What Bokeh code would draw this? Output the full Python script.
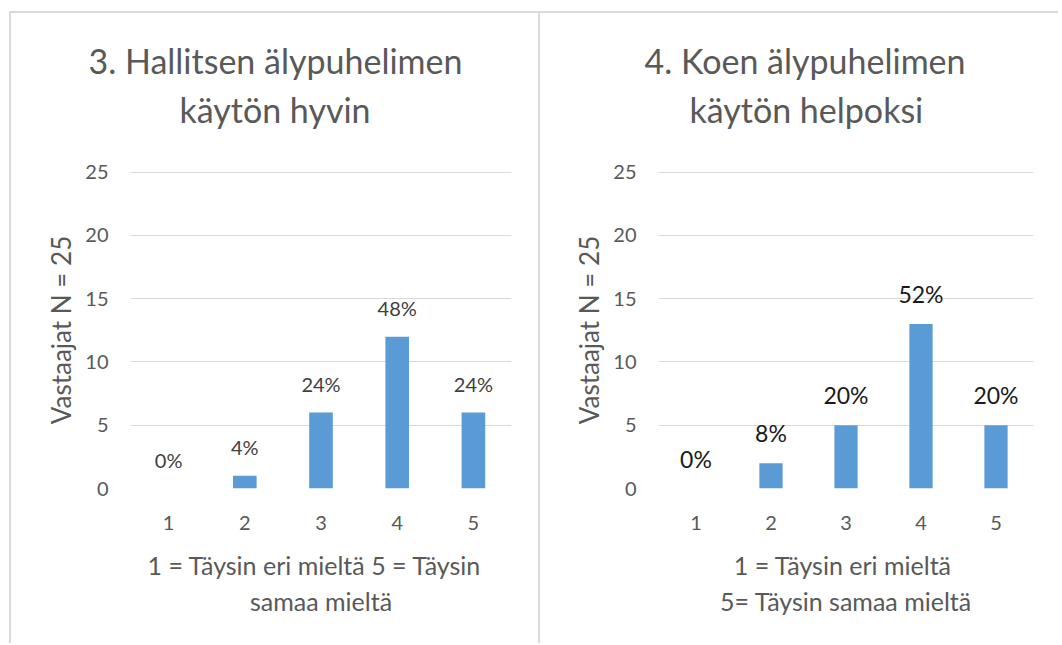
from bokeh.plotting import figure
from bokeh.models import Range1d, FixedTicker, LabelSet, ColumnDataSource, Title
from bokeh.core.properties import value
from bokeh.layouts import row
from bokeh.embed import file_html
from bokeh.resources import INLINE

# ---- data ----
categories = [1, 2, 3, 4, 5]
tick_labels = ["1", "2", "3", "4", "5"]
left_counts = [0, 1, 6, 12, 6]
left_pct = ["0%", "4%", "24%", "48%", "24%"]
right_counts = [0, 2, 5, 13, 5]
right_pct = ["0%", "8%", "20%", "52%", "20%"]
left_title = ["3. Hallitsen älypuhelimen", "käytön hyvin"]
right_title = ["4. Koen älypuhelimen", "käytön helpoksi"]
left_xlabel = ["1 = Täysin eri  mieltä  5 = Täysin", "samaa mieltä"]
right_xlabel = ["1 = Täysin eri  mieltä", "5= Täysin samaa mieltä"]
y_label = "Vastaajat N = 25"

FONT = "Lato"
GREY = "#595959"
BAR = "#5B9BD5"
GRID = "#D9D9D9"


def spacer(p, side, standoff):
    p.add_layout(Title(text=" ", text_font_size="1px", standoff=standoff), side)


def panel(counts, pcts, title, xlabel, width, mb_left, mb_right, title_offs,
          pct_color, pct_size):
    border = "2px solid " + GRID
    p = figure(width=width, height=632, output_backend="svg",
               toolbar_location=None, x_range=Range1d(0.5, 5.5),
               y_range=Range1d(0, 25.05), min_border_left=mb_left,
               min_border_right=mb_right, min_border_top=158,
               min_border_bottom=157,
               styles={"border-left": border, "border-top": border})
    p.outline_line_color = None
    p.background_fill_color = "white"
    p.border_fill_color = "white"
    p.xgrid.grid_line_color = None
    p.ygrid.grid_line_color = GRID
    p.ygrid.grid_line_width = 1

    p.vbar(x=categories, top=counts, width=0.31, fill_color=BAR, line_color=None)

    src = ColumnDataSource(dict(x=categories, y=counts, t=pcts))
    p.add_layout(LabelSet(x="x", y="y", text="t", source=src, y_offset=21,
                          text_align="center", text_baseline="alphabetic",
                          text_font=value(FONT), text_font_size=value(pct_size),
                          text_color=value(pct_color)))

    # axes
    p.xaxis.ticker = FixedTicker(ticks=categories)
    p.xaxis.major_label_overrides = {c: t for c, t in zip(categories, tick_labels)}
    p.yaxis.ticker = FixedTicker(ticks=[0, 5, 10, 15, 20, 25])
    for ax in (p.xaxis[0], p.yaxis[0]):
        ax.axis_line_color = None
        ax.major_tick_line_color = None
        ax.minor_tick_line_color = None
        ax.major_tick_out = 0
        ax.major_tick_in = 0
        ax.major_label_text_font = FONT
        ax.major_label_text_font_size = "20px"
        ax.major_label_text_color = GREY
    p.xaxis.major_label_standoff = 27
    p.yaxis.major_label_standoff = 22
    p.yaxis.axis_label = y_label
    p.yaxis.axis_label_text_font = FONT
    p.yaxis.axis_label_text_font_size = "26px"
    p.yaxis.axis_label_text_font_style = "normal"
    p.yaxis.axis_label_text_color = GREY
    p.yaxis.axis_label_standoff = 5

    # titles: spacer nearest the frame, then line 2, then line 1
    spacer(p, "above", 36)
    for line, off in ((title[1], title_offs[1]), (title[0], title_offs[0])):
        p.add_layout(Title(text=line, align="left", offset=off, standoff=6,
                           text_font=FONT, text_font_size="34px",
                           text_font_style="normal", text_color=GREY), "above")
    # x axis title lines below the axis
    spacer(p, "below", 10)
    for line in xlabel:
        p.add_layout(Title(text=line, align="center", standoff=4,
                           text_font=FONT, text_font_size="25px",
                           text_font_style="normal", text_color=GREY), "below")
    return p


p1 = panel(left_counts, left_pct, left_title, left_xlabel, 529, 119, 29,
           (-42, 49), "#404040", "20px")
p2 = panel(right_counts, right_pct, right_title, right_xlabel, 520, 118, 27,
           (-14, 31), "#1A1A1A", "23px")

layout = row(p1, p2, margin=(11, 0, 0, 9))
open("out.html", "w").write(file_html(layout, INLINE))
